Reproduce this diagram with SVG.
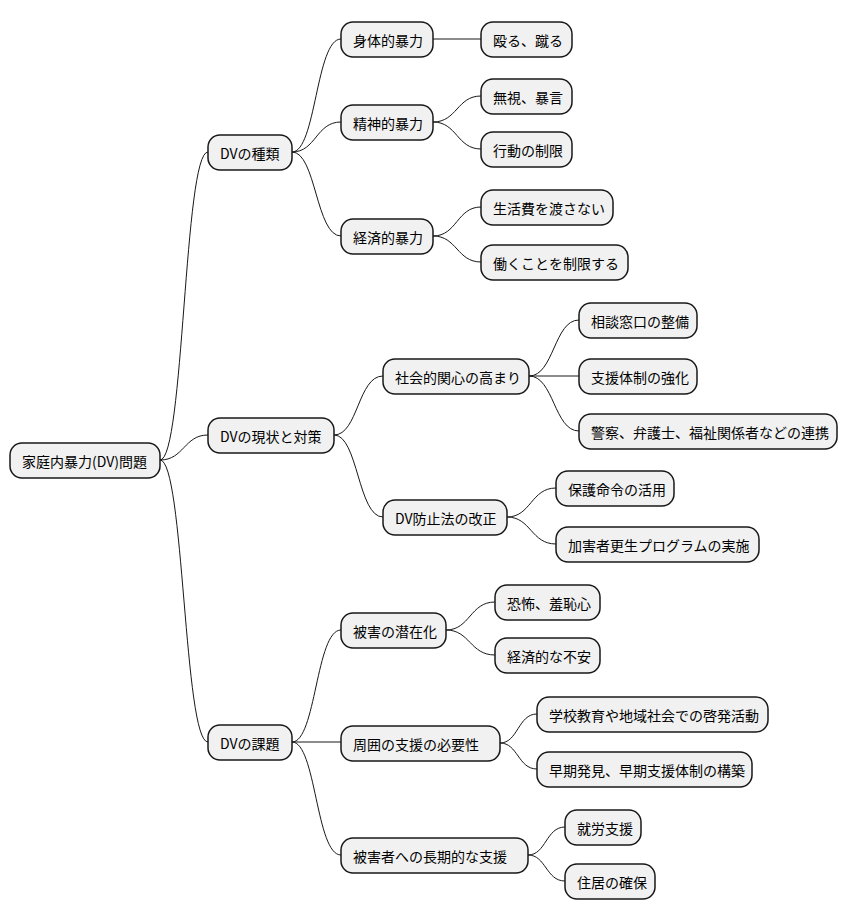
<svg xmlns="http://www.w3.org/2000/svg" width="848" height="921" viewBox="0 0 848 921">
<style>
rect{fill:#F1F1F1;stroke:#181818;stroke-width:1.5}
text{font-family:"Noto Sans CJK JP","Liberation Sans",sans-serif;font-size:14px;fill:#000;dominant-baseline:central}
path{fill:none;stroke:#181818;stroke-width:1}
</style>
<rect width="848" height="921" style="fill:#fff;stroke:none"/>
<g id="connectors">
<path d="M160,460 C184,460 184,152 208,152"/>
<path d="M160,460 C184,460 184,435 208,435"/>
<path d="M160,460 C184,460 184,742 208,742"/>
<path d="M292,152 C316,152 316,39 341,39"/>
<path d="M292,152 C316,152 316,122 341,122"/>
<path d="M292,152 C316,152 316,236 341,236"/>
<path d="M433,39 L481,39"/>
<path d="M433,122 C457,122 457,96 481,96"/>
<path d="M433,122 C457,122 457,149 481,149"/>
<path d="M433,236 C457,236 457,207 481,207"/>
<path d="M433,236 C457,236 457,262 481,262"/>
<path d="M334,435 C358,435 358,376 383,376"/>
<path d="M334,435 C358,435 358,517 383,517"/>
<path d="M529,376 C554,376 554,320 579,320"/>
<path d="M529,376 L579,376"/>
<path d="M529,376 C554,376 554,431 579,431"/>
<path d="M507,517 C531,517 531,488 556,488"/>
<path d="M507,517 C531,517 531,544 556,544"/>
<path d="M292,742 C316,742 316,630 341,630"/>
<path d="M292,742 L341,742"/>
<path d="M292,742 C316,742 316,855 341,855"/>
<path d="M446,630 C470,630 470,602 495,602"/>
<path d="M446,630 C470,630 470,655 495,655"/>
<path d="M500,743 C518,743 518,714 537,714"/>
<path d="M500,743 C518,743 518,769 537,769"/>
<path d="M528,855 C546,855 546,827 565,827"/>
<path d="M528,855 C546,855 546,881 565,881"/>
</g>
<g id="root"><rect x="10" y="443" width="150" height="35" rx="12"/><text x="22" y="460.5">家庭内暴力(DV)問題</text></g>
<g id="n1"><rect x="208" y="135" width="84" height="35" rx="12"/><text x="220" y="152.5">DVの種類</text></g>
<g id="n2"><rect x="208" y="418" width="126" height="35" rx="12"/><text x="220" y="435.5">DVの現状と対策</text></g>
<g id="n3"><rect x="208" y="725" width="84" height="35" rx="12"/><text x="220" y="742.5">DVの課題</text></g>
<g id="n11"><rect x="341" y="22" width="92" height="35" rx="12"/><text x="353" y="39.5">身体的暴力</text></g>
<g id="n12"><rect x="341" y="105" width="92" height="35" rx="12"/><text x="353" y="122.5">精神的暴力</text></g>
<g id="n13"><rect x="341" y="219" width="92" height="35" rx="12"/><text x="353" y="236.5">経済的暴力</text></g>
<g id="n111"><rect x="481" y="22" width="91" height="35" rx="12"/><text x="493" y="39.5">殴る、蹴る</text></g>
<g id="n121"><rect x="481" y="79" width="91" height="35" rx="12"/><text x="493" y="96.5">無視、暴言</text></g>
<g id="n122"><rect x="481" y="132" width="91" height="35" rx="12"/><text x="493" y="149.5">行動の制限</text></g>
<g id="n131"><rect x="481" y="190" width="132" height="35" rx="12"/><text x="493" y="207.5">生活費を渡さない</text></g>
<g id="n132"><rect x="481" y="245" width="147" height="35" rx="12"/><text x="493" y="262.5">働くことを制限する</text></g>
<g id="n21"><rect x="383" y="359" width="146" height="35" rx="12"/><text x="395" y="376.5">社会的関心の高まり</text></g>
<g id="n22"><rect x="383" y="500" width="124" height="35" rx="12"/><text x="395" y="517.5">DV防止法の改正</text></g>
<g id="n211"><rect x="579" y="303" width="118" height="35" rx="12"/><text x="591" y="320.5">相談窓口の整備</text></g>
<g id="n212"><rect x="579" y="359" width="118" height="35" rx="12"/><text x="591" y="376.5">支援体制の強化</text></g>
<g id="n213"><rect x="579" y="414" width="258" height="35" rx="12"/><text x="591" y="431.5">警察、弁護士、福祉関係者などの連携</text></g>
<g id="n221"><rect x="556" y="471" width="118" height="35" rx="12"/><text x="568" y="488.5">保護命令の活用</text></g>
<g id="n222"><rect x="556" y="527" width="203" height="35" rx="12"/><text x="568" y="544.5">加害者更生プログラムの実施</text></g>
<g id="n31"><rect x="341" y="613" width="105" height="35" rx="12"/><text x="353" y="630.5">被害の潜在化</text></g>
<g id="n32"><rect x="341" y="726" width="159" height="35" rx="12"/><text x="353" y="743.5">周囲の支援の必要性</text></g>
<g id="n33"><rect x="341" y="838" width="187" height="35" rx="12"/><text x="353" y="855.5">被害者への長期的な支援</text></g>
<g id="n311"><rect x="495" y="585" width="105" height="35" rx="12"/><text x="507" y="602.5">恐怖、羞恥心</text></g>
<g id="n312"><rect x="495" y="638" width="105" height="35" rx="12"/><text x="507" y="655.5">経済的な不安</text></g>
<g id="n321"><rect x="537" y="697" width="231" height="35" rx="12"/><text x="549" y="714.5">学校教育や地域社会での啓発活動</text></g>
<g id="n322"><rect x="537" y="752" width="215" height="35" rx="12"/><text x="549" y="769.5">早期発見、早期支援体制の構築</text></g>
<g id="n331"><rect x="565" y="810" width="76" height="35" rx="12"/><text x="577" y="827.5">就労支援</text></g>
<g id="n332"><rect x="565" y="864" width="90" height="35" rx="12"/><text x="577" y="881.5">住居の確保</text></g>
</svg>
